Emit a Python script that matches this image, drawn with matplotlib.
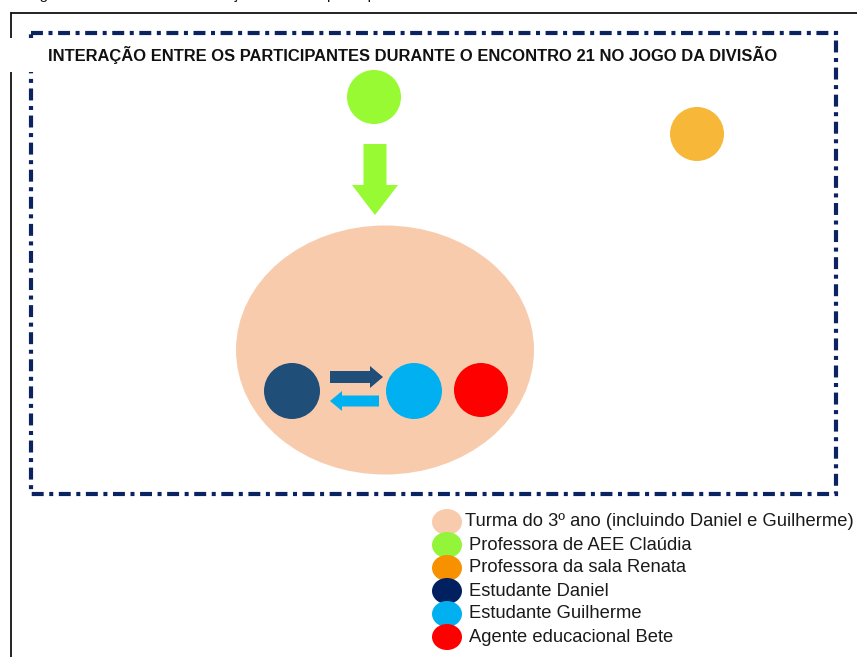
import matplotlib
matplotlib.use("Agg")
import matplotlib.pyplot as plt
from matplotlib.patches import Ellipse, Rectangle, FancyArrow

plt.rcParams['font.family'] = ['Liberation Sans', 'DejaVu Sans']
plt.rcParams['lines.scale_dashes'] = False

W, H = 857, 657

# diagram content (pixel coordinates of the original figure)
title = "INTERAÇÃO ENTRE OS PARTICIPANTES DURANTE O ENCONTRO 21 NO JOGO DA DIVISÃO"
caption = "Figura 21 – Síntese das interações entre os participantes"

class_center = (385, 350)
class_size = (298, 249)

node_names = ["Claúdia", "Renata", "Daniel", "Guilherme", "Bete"]
node_x = [374, 697, 292, 414, 481]
node_y = [97, 134, 391, 391, 390]
node_r = [27, 27, 28, 28, 27]
node_colors = ["#97FA32", "#F7B738", "#1F4E79", "#00B0F0", "#FF0000"]

legend_labels = [
    "Turma do 3º ano (incluindo Daniel e Guilherme)",
    "Professora de AEE Claúdia",
    "Professora da sala Renata",
    "Estudante Daniel",
    "Estudante Guilherme",
    "Agente educacional Bete",
]
legend_colors = ["#F8CBAD", "#92F53A", "#F79100", "#002060", "#00B0F0", "#FF0000"]
legend_y = [522, 545, 568, 591, 614, 637]

fig = plt.figure(figsize=(W / 100, H / 100), dpi=100)
ax = fig.add_axes([0, 0, 1, 1])
ax.set_xlim(0, W)
ax.set_ylim(H, 0)
ax.axis('off')

# outer frame lines (black) of the page box
ax.plot([11.5, W], [12.5, 12.5], color='#111111', lw=1.3, solid_capstyle='butt')
ax.plot([11.5, 11.5], [12, H], color='#111111', lw=1.3, solid_capstyle='butt')

# dash-dot border
ax.add_patch(Rectangle((31, 33), 805, 461, fill=False, edgecolor='#0B2461',
                       lw=3.0, linestyle=(0, (8.6, 4.0, 2.9, 4.0)), zorder=2))

# title block covers part of the frame on the left
ax.add_patch(Rectangle((0, 38), 44, 34, facecolor='white', edgecolor='none', zorder=3))
ax.text(48, 55, title, fontsize=11.9, fontweight='bold', color='#111111',
        va='center', ha='left', zorder=4)

# cut caption at the very top
ax.text(27, -1.5, caption, fontsize=11, color='#111111', va='baseline',
        ha='left', clip_on=False)

# class ellipse
ax.add_patch(Ellipse(class_center, class_size[0], class_size[1],
                     facecolor='#F8CBAD', edgecolor='none', zorder=1))

# participants
for x, y, r, c in zip(node_x, node_y, node_r, node_colors):
    ax.add_patch(Ellipse((x, y), 2 * r, 2 * r, facecolor=c, edgecolor='none', zorder=5))

# arrows
ax.add_patch(FancyArrow(375, 144, 0, 71, width=23, head_width=46, head_length=30,
                        length_includes_head=True, color='#97FA32', lw=0, zorder=5))
ax.add_patch(FancyArrow(330, 377, 53, 0, width=12, head_width=22, head_length=13,
                        length_includes_head=True, color='#1F4E79', lw=0, zorder=5))
ax.add_patch(FancyArrow(379, 401, -49, 0, width=11, head_width=20, head_length=12,
                        length_includes_head=True, color='#00B0F0', lw=0, zorder=5))

# legend
for i, (lab, c, y) in enumerate(zip(legend_labels, legend_colors, legend_y)):
    ax.add_patch(Ellipse((447, y), 30, 26, facecolor=c, edgecolor='none', zorder=5))
    ax.text(465 if i == 0 else 469, y, lab, fontsize=13.2, color='#1A1A1A',
            va='center', ha='left', zorder=6)

fig.savefig("out.png", dpi=100)
